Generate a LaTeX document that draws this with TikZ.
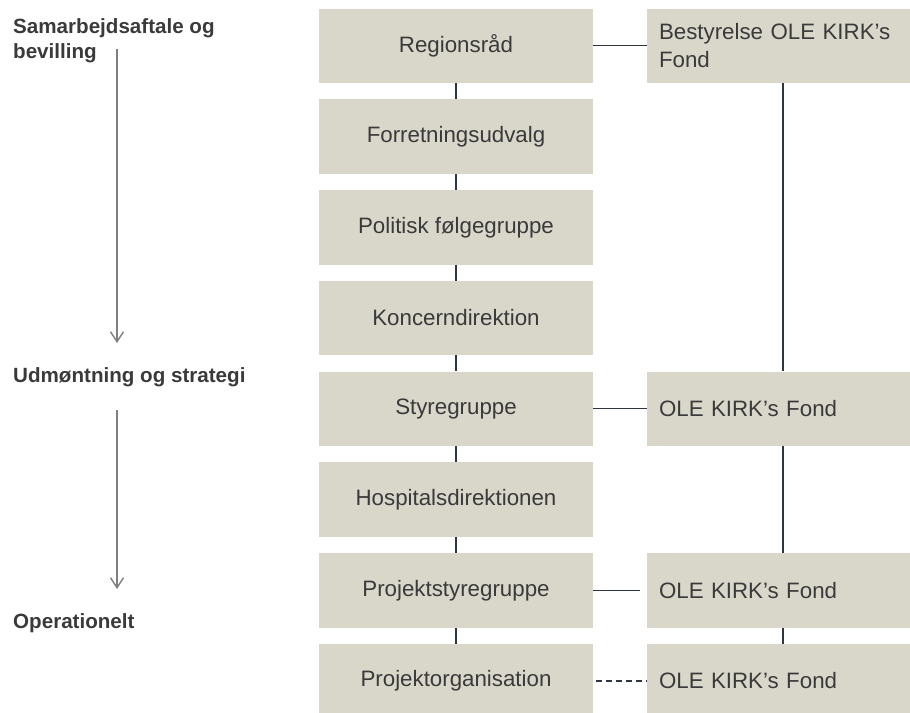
\documentclass[tikz,border=0pt]{standalone}
\usepackage{fontspec}
\setmainfont{Liberation Sans}
\usetikzlibrary{arrows.meta}
\definecolor{boxfill}{HTML}{D9D6CA}
\definecolor{txt}{HTML}{3A3A3A}
\definecolor{conncol}{HTML}{2E3642}
\definecolor{phasecol}{HTML}{7F7F7F}
\tikzset{
  lbox/.style={fill=boxfill, inner sep=0pt, minimum width=274pt, minimum height=74.5pt,
    text=txt, font=\fontsize{22.3}{27}\selectfont},
  rbox/.style={fill=boxfill, inner xsep=12pt, inner ysep=0pt, text width=239pt, align=left,
    minimum height=74.5pt, text=txt, font=\fontsize{22.3}{27.5}\selectfont},
  conn/.style={draw=conncol, line width=1.4pt},
  phase/.style={draw=phasecol, line width=1.4pt, -{Straight Barb[length=10pt,width=13pt,line width=1.4pt]}},
  phaselabel/.style={anchor=base west, inner sep=0pt, text=txt, align=left,
    font=\fontsize{20.6}{25}\selectfont\bfseries},
}
\begin{document}
\begin{tikzpicture}[x=1pt,y=-1pt]
\useasboundingbox (0,0) rectangle (910,712);
% left column
\node[lbox] (r1) at (456,45.75) {Regionsråd};
\node[lbox] (r2) at (456,136.5) {Forretningsudvalg};
\node[lbox] (r3) at (456,227.25) {Politisk følgegruppe};
\node[lbox] (r4) at (456,318) {Koncerndirektion};
\node[lbox] (r5) at (456,408.75) {Styregruppe};
\node[lbox] (r6) at (456,499.5) {Hospitalsdirektionen};
\node[lbox] (r7) at (456,590.25) {Projektstyregruppe};
\node[lbox] (r8) at (456,681) {Projektorganisation};
% right column
\node[rbox] (f1) at (778.5,45.75) {Bestyrelse OLE KIRK’s\\Fond};
\node[rbox] (f5) at (778.5,408.75) {OLE KIRK’s Fond};
\node[rbox] (f7) at (778.5,590.25) {OLE KIRK’s Fond};
\node[rbox] (f8) at (778.5,681) {OLE KIRK’s Fond};
% vertical connectors left
\foreach \a/\b in {r1/r2,r2/r3,r3/r4,r4/r5,r5/r6,r6/r7,r7/r8}
  \draw[conn] (\a.south) -- (\b.north);
% vertical connectors right
\draw[conn] (f1.south -| 783,0) -- (f5.north -| 783,0);
\draw[conn] (f5.south -| 783,0) -- (f7.north -| 783,0);
\draw[conn] (f7.south -| 783,0) -- (f8.north -| 783,0);
% horizontal connectors
\draw[conn] (r1.east) -- (f1.west);
\draw[conn] (r5.east) -- (f5.west);
\coordinate (e7) at ([xshift=-7pt]f7.west);
\draw[conn] (r7.east) -- (e7);
\draw[conn, dashed, dash pattern=on 6pt off 4pt] ([xshift=3pt]r8.east) -- (f8.west);
% phase labels
\node[phaselabel] (p1) at (13,33) {Samarbejdsaftale og};
\node[phaselabel] (p1b) at (13,58) {bevilling};
\node[phaselabel] (p2) at (13,382) {Udmøntning og strategi};
\node[phaselabel] (p3) at (13,628) {Operationelt};
\coordinate (a1s) at (117,49);
\coordinate (a1e) at (117,343);
\coordinate (a2s) at (117,410);
\coordinate (a2e) at (117,589);
\draw[phase] (a1s) -- (a1e);
\draw[phase] (a2s) -- (a2e);
\end{tikzpicture}
\end{document}
